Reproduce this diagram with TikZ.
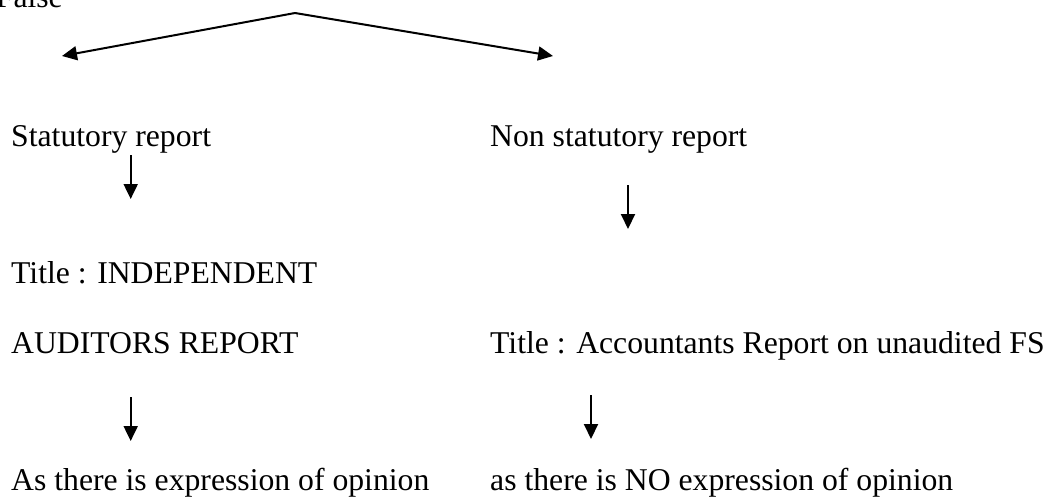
\documentclass[tikz,border=0pt]{standalone}
\usepackage{fontspec}
\setmainfont{Liberation Serif}
\usetikzlibrary{arrows.meta}
\begin{document}
\begin{tikzpicture}[x=1pt,y=-1pt,
  txt/.style={anchor=base west,inner sep=0pt,font=\fontsize{31.7}{38}\selectfont},
  conn/.style={line width=2pt,-{Triangle[length=15pt,width=14pt]}}]
\useasboundingbox (0,0) rectangle (1049,496);
\node[txt,anchor=base east] (false) at (63,7) {False};
\node[txt] (stat) at (11,146) {Statutory report};
\node[txt] (nonstat) at (490,146) {Non statutory report};
\node[txt] (title1) at (11,283) {Title : INDEPENDENT};
\node[txt] (auditors) at (11,353) {AUDITORS REPORT};
\node[txt] (title2) at (490,353) {Title : Accountants Report on unaudited FS};
\node[txt] (as1) at (11,490) {As there is expression of opinion};
\node[txt] (as2) at (490,490) {as there is NO expression of opinion};
\coordinate (apex) at (295,13);
\coordinate (ltip) at (62,56);
\coordinate (rtip) at (553,56);
\coordinate (a1s) at (130.7,155);
\coordinate (a1e) at (130.7,199);
\coordinate (a2s) at (628,185);
\coordinate (a2e) at (628,229);
\coordinate (a3s) at (130.7,397);
\coordinate (a3e) at (130.7,441);
\coordinate (a4s) at (591,395);
\coordinate (a4e) at (591,439);
\draw[conn] (apex) -- (ltip);
\draw[conn] (apex) -- (rtip);
\draw[conn] (a1s) -- (a1e);
\draw[conn] (a2s) -- (a2e);
\draw[conn] (a3s) -- (a3e);
\draw[conn] (a4s) -- (a4e);
\end{tikzpicture}
\end{document}
